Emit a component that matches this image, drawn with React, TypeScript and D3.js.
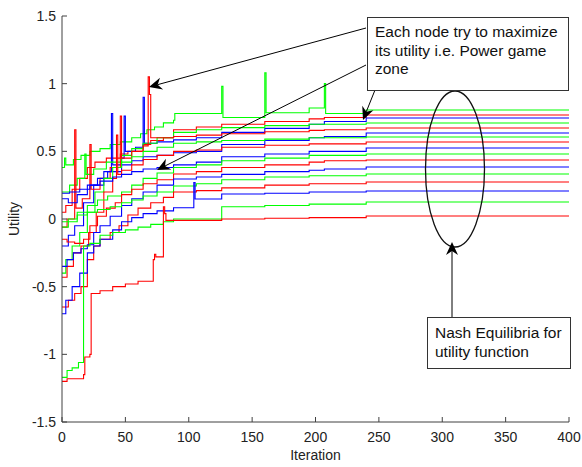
import { FC, useRef, useEffect } from 'react'
import * as d3 from 'd3'

type Pt = [number, number]

const xTicks = [0, 50, 100, 150, 200, 250, 300, 350, 400]
const yTicks = [-1.5, -1, -0.5, 0, 0.5, 1, 1.5]

// utility of each node vs iteration, [iteration, utility] breakpoints (stairs)
const node01: Pt[] = [[0, .38], [2, .45], [3, .4], [9, .44], [15, .47], [22, .5], [30, .52], [38, .55], [46, .57], [55, .6], [62, .63], [67, .66], [73, .68], [80, .71], [88, .73], [89, .78], [126, .98], [127, .75], [160, 1.08], [161, .785], [195, .82], [207, 1.0], [208, .78], [240, .805], [400, .805]]
const node02: Pt[] = [[0, .05], [3, .1], [8, .22], [14, .3], [20, .38], [26, .42], [35, .45], [46, .48], [52, .5], [64, .55], [70, .58], [80, .6], [88, .66], [106, .68], [126, .7], [160, .72], [195, .74], [207, .75], [240, .768], [400, .768]]
const node03: Pt[] = [[0, -.2], [5, -.12], [10, -.05], [17, .12], [25, .25], [33, .35], [39, .78], [40, .4], [47, .45], [49, .76], [50, .5], [58, .53], [64, .9], [65, .56], [75, .57], [88, .585], [106, .6], [126, .64], [160, .67], [195, .7], [207, .72], [240, .746], [400, .746]]
const node04: Pt[] = [[0, .2], [6, .25], [12, .3], [18, .48], [19, .33], [25, .37], [35, .42], [47, .47], [55, .52], [64, .56], [75, .6], [88, .64], [106, .66], [126, .675], [160, .69], [195, .7], [240, .709], [400, .709]]
const node05: Pt[] = [[0, -.06], [4, 0], [10, .66], [11, .08], [16, .15], [22, .55], [23, .22], [30, .3], [38, .38], [46, .76], [47, .45], [55, .5], [64, .54], [68, 1.05], [69, .92], [70, .6], [88, .61], [106, .62], [126, .63], [160, .645], [195, .655], [207, .66], [240, .672], [400, .672]]
const node06: Pt[] = [[0, .15], [5, .12], [12, .18], [20, .25], [28, .3], [36, .35], [47, .4], [55, .43], [64, .46], [75, .47], [88, .49], [106, .5], [126, .55], [160, .58], [195, .6], [207, .61], [240, .635], [400, .635]]
const node07: Pt[] = [[0, -.4], [3, -.3], [8, -.2], [14, -.1], [20, .05], [26, .2], [33, .3], [40, .38], [47, .42], [55, .46], [64, .5], [75, .53], [88, .56], [106, .57], [126, .58], [160, .59], [195, .6], [240, .606], [400, .606]]
const node08: Pt[] = [[0, -.43], [4, -.35], [9, -.25], [15, -.2], [21, -.1], [27, .05], [33, .2], [40, .3], [43, .62], [44, .33], [47, .36], [55, .4], [64, .44], [75, .47], [88, .5], [106, .51], [126, .53], [160, .545], [195, .555], [240, .569], [400, .569]]
const node09: Pt[] = [[0, .19], [6, .2], [14, .22], [22, .25], [30, .28], [40, .31], [47, .33], [55, .35], [64, .37], [75, .38], [88, .4], [106, .42], [126, .46], [160, .48], [195, .5], [240, .525], [400, .525]]
const node10: Pt[] = [[0, -.06], [5, -.02], [12, .05], [20, .1], [28, .14], [36, .17], [47, .2], [55, .25], [64, .3], [75, .34], [88, .38], [106, .4], [126, .43], [160, .45], [195, .47], [240, .48], [400, .48]]
const node11: Pt[] = [[0, -.15], [4, -.17], [10, -.18], [17, -.15], [22, -.05], [28, .02], [35, .08], [42, .12], [47, .18], [55, .22], [64, .26], [75, .29], [88, .333], [106, .35], [126, .38], [160, .4], [195, .42], [207, .43], [240, .436], [400, .436]]
const node12: Pt[] = [[0, -.35], [4, -.3], [9, -.25], [15, -.22], [20, -.19], [25, -.1], [30, -.05], [38, .02], [47, .1], [55, .15], [64, .2], [75, .25], [88, .296], [106, .31], [126, .33], [160, .35], [195, .36], [207, .37], [240, .384], [400, .384]]
const node13: Pt[] = [[0, -.02], [5, 0], [12, .03], [20, .05], [28, .07], [38, .09], [47, .12], [55, .14], [64, .17], [75, .2], [88, .244], [106, .26], [126, .29], [160, .31], [195, .32], [240, .333], [400, .333]]
const node14: Pt[] = [[0, -.65], [5, -.6], [10, -.55], [15, -.5], [20, -.3], [25, -.2], [30, -.15], [38, -.1], [45, -.05], [52, .03], [60, .08], [70, .12], [80, .16], [88, .2], [106, .21], [126, .23], [160, .25], [195, .26], [240, .273], [400, .273]]
const node15: Pt[] = [[0, -.7], [3, -.6], [8, -.5], [14, -.4], [20, -.25], [25, -.2], [30, -.15], [40, -.08], [47, -.02], [55, .01], [64, .04], [75, .06], [88, .083], [104, .27], [105, .148], [126, .185], [160, .19], [195, .2], [240, .207], [400, .207]]
const node16: Pt[] = [[0, -1.17], [4, -1.12], [8, -1.1], [13, -1.06], [17, -.2], [22, -.18], [30, -.12], [40, -.1], [50, -.08], [60, -.06], [70, -.04], [80, -.02], [88, 0], [126, .09], [160, .1], [195, .11], [240, .126], [400, .126]]
const node17: Pt[] = [[0, -1.2], [4, -1.18], [17, -1.15], [18, -1.02], [22, -1.0], [23, -.55], [30, -.53], [40, -.5], [50, -.48], [60, -.46], [72, -.3], [73, -.26], [74, -.28], [80, .09], [81, .04], [82, -.01], [126, 0], [160, .005], [195, .01], [240, .022], [400, .022]]

const nodes = [node01, node02, node03, node04, node05, node06, node07, node08, node09, node10, node11, node12, node13, node14, node15, node16, node17]
const nodeColors = ['#00ff00', '#ff0000', '#0000ff']

const W = 582
const H = 467
const FONT = 'Arial, "Liberation Sans", sans-serif'

const App: FC = () => {
  const svgRef = useRef<SVGSVGElement>(null)

  useEffect(() => {
    if (!svgRef.current) return
    const svg = d3.select(svgRef.current)
    svg.selectAll('*').remove()

    const left = 62, right = 569, top = 16, bottom = 422
    const x = d3.scaleLinear().domain([0, 400]).range([left, right])
    const y = d3.scaleLinear().domain([-1.5, 1.5]).range([bottom, top])

    svg.append('rect').attr('width', W).attr('height', H).attr('fill', '#fff')

    const line = d3.line<Pt>()
      .x(d => x(d[0]))
      .y(d => y(d[1]))
      .curve(d3.curveStepAfter)

    svg.append('g')
      .selectAll('path')
      .data(nodes)
      .join('path')
      .attr('d', d => line(d))
      .attr('fill', 'none')
      .attr('stroke', (_, i) => nodeColors[i % 3])
      .attr('stroke-width', 1.1)

    // axes (box off, ticks inside)
    const axisColor = '#404040'
    const ax = svg.append('g')
    ax.append('line').attr('x1', left).attr('x2', left).attr('y1', top).attr('y2', bottom)
      .attr('stroke', axisColor)
    ax.append('line').attr('x1', left).attr('x2', right).attr('y1', bottom).attr('y2', bottom)
      .attr('stroke', axisColor)

    ax.selectAll('.yt').data(yTicks).join('line')
      .attr('x1', left).attr('x2', left + 5)
      .attr('y1', d => y(d)).attr('y2', d => y(d))
      .attr('stroke', axisColor)
    ax.selectAll('.xt').data(xTicks).join('line')
      .attr('x1', d => x(d)).attr('x2', d => x(d))
      .attr('y1', bottom).attr('y2', bottom - 5)
      .attr('stroke', axisColor)

    ax.selectAll('.yl').data(yTicks).join('text')
      .attr('x', left - 6)
      .attr('y', d => y(d))
      .attr('dy', '0.35em')
      .attr('text-anchor', 'end')
      .attr('font-family', FONT)
      .attr('font-size', 14)
      .attr('fill', '#222')
      .text(d => String(d))
    ax.selectAll('.xl').data(xTicks).join('text')
      .attr('x', d => x(d))
      .attr('y', bottom + 20)
      .attr('text-anchor', 'middle')
      .attr('font-family', FONT)
      .attr('font-size', 14)
      .attr('fill', '#222')
      .text(d => String(d))

    svg.append('text')
      .attr('transform', `translate(19,${(top + bottom) / 2}) rotate(-90)`)
      .attr('text-anchor', 'middle')
      .attr('font-family', FONT)
      .attr('font-size', 14)
      .attr('fill', '#222')
      .text('Utility')
    svg.append('text')
      .attr('x', (left + right) / 2)
      .attr('y', 460)
      .attr('text-anchor', 'middle')
      .attr('font-family', FONT)
      .attr('font-size', 14)
      .attr('fill', '#222')
      .text('Iteration')

    // annotations
    const an = svg.append('g')
    const arrow = (x1: number, y1: number, x2: number, y2: number) => {
      const len = Math.hypot(x2 - x1, y2 - y1)
      const ux = (x2 - x1) / len, uy = (y2 - y1) / len
      const nx = -uy, ny = ux
      const hl = 13, hw = 6, notch = 9
      an.append('line')
        .attr('x1', x1).attr('y1', y1)
        .attr('x2', x2 - ux * notch).attr('y2', y2 - uy * notch)
        .attr('stroke', '#000').attr('stroke-width', 1)
      const pts: Pt[] = [
        [x2, y2],
        [x2 - ux * hl + nx * hw, y2 - uy * hl + ny * hw],
        [x2 - ux * notch, y2 - uy * notch],
        [x2 - ux * hl - nx * hw, y2 - uy * hl - ny * hw],
      ]
      an.append('polygon').attr('points', pts.map(p => p.join(',')).join(' ')).attr('fill', '#000')
    }

    arrow(366, 28, 149, 87)
    arrow(366, 65, 157, 170)
    arrow(375, 90, 363, 120)

    an.append('ellipse')
      .attr('cx', 455).attr('cy', 169).attr('rx', 29.5).attr('ry', 78)
      .attr('fill', 'none').attr('stroke', '#111').attr('stroke-width', 1.3)
    arrow(452, 317, 452, 242)

    const box = (bx: number, by: number, bw: number, bh: number, lines: string[], tx: number, ty: number, lh: number) => {
      an.append('rect').attr('x', bx + 0.5).attr('y', by + 0.5).attr('width', bw).attr('height', bh)
        .attr('fill', '#fff').attr('stroke', '#333').attr('stroke-width', 1)
      an.selectAll(null).data(lines).join('text')
        .attr('x', tx)
        .attr('y', (_, i) => ty + i * lh)
        .attr('font-family', FONT)
        .attr('font-size', 15.5)
        .attr('fill', '#111')
        .text(d => d)
    }

    box(367, 17, 201, 73, ['Each node try to maximize', 'its utility i.e. Power game', 'zone'], 375, 37, 18.5)
    box(427, 317, 143, 51, ['Nash Equilibria for', 'utility function'], 435, 338, 19)
  }, [])

  return (
    <div style={{ position: 'absolute', left: 0, top: 0 }}>
      <svg ref={svgRef} width={W} height={H} style={{ display: 'block' }} />
    </div>
  )
}

export default App
